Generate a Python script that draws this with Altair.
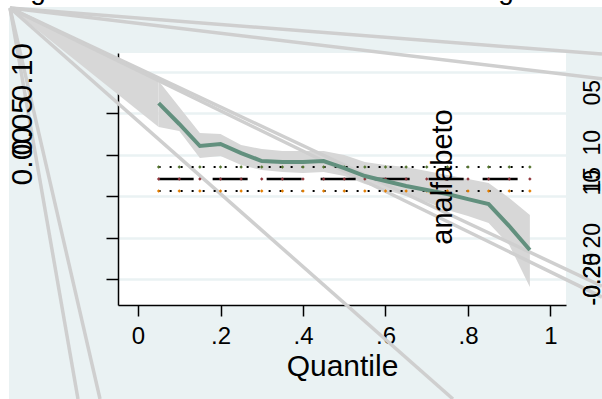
import altair as alt
import pandas as pd

# ---------------- data ----------------
quantiles = [0.05, 0.10, 0.15, 0.20, 0.25, 0.30, 0.35, 0.40, 0.45, 0.50,
             0.55, 0.60, 0.65, 0.70, 0.75, 0.80, 0.85, 0.90, 0.95]
coef = [0.0625, 0.0372, 0.0106, 0.0130, 0.0021, -0.0075, -0.0087, -0.0087, -0.0075, -0.0160,
        -0.0257, -0.0317, -0.0377, -0.0426, -0.0474, -0.0535, -0.0595, -0.0861, -0.1151]
ci_upper = [0.0891, 0.0577, 0.0263, 0.0251, 0.0118, 0.0070, 0.0045, 0.0045, 0.0045, -0.0003,
            -0.0087, -0.0124, -0.0148, -0.0196, -0.0245, -0.0293, -0.0341, -0.0522, -0.0728]
ci_lower = [0.0335, 0.0287, -0.0039, -0.0015, -0.0124, -0.0184, -0.0208, -0.0220, -0.0208, -0.0257,
            -0.0353, -0.0426, -0.0498, -0.0571, -0.0667, -0.0740, -0.0825, -0.1090, -0.1598]
ols_coef = -0.0293
ols_upper = -0.0148
ols_lower = -0.0438

x_ticks = [0, 0.2, 0.4, 0.6, 0.8, 1]
x_tick_labels = ["0", ".2", ".4", ".6", ".8", "1"]
y_ticks = [-0.15, -0.10, -0.05, 0.0, 0.05, 0.10]
left_labels = ["0.00", "0.05", "0.10"]
right_labels = ["05", "10", "15", "10", "20", "-0.20", "-0.25"]
var_label = "analfabeto"
x_title = "Quantile"
title_fragments = ["g", "g"]

# stray segments (drawn from a missing point that falls at the corner)
corner_x = -0.3103
corner_y = 0.1773
stray_end_x = [1.1248, 1.1248, 1.1248, 1.1248, 0.7636, -0.1455, -0.0921]
stray_end_y = [0.1217, 0.0920, -0.1586, -0.1719, -0.2951, -0.2951, -0.2951]

# ---------------- styles ----------------
FONT = "Liberation Sans"
BG = "#EAF2F3"
BAND = "#D7D7D7"
STRAY = "#CFCFCF"
LINE = "#62907E"
W, H = 448, 252
XDOM = [-0.0485, 1.0376]
YDOM = [-0.1815, 0.123]

xs = alt.Scale(domain=XDOM, nice=False, zero=False)
ys = alt.Scale(domain=YDOM, nice=False, zero=False)

label_expr = " : ".join(
    f"datum.value == {v} ? '{l}'" for v, l in zip(x_ticks, x_tick_labels)
) + " : ''"

x_axis = alt.Axis(values=x_ticks, labelExpr=label_expr, title=x_title, grid=False,
                  tickSize=11, tickWidth=1.5, tickColor="black", domainColor="black",
                  domainWidth=1.5, labelFontSize=24, labelFont=FONT, labelColor="black",
                  labelPadding=8, labelFlush=False, labelOverlap=False,
                  titleFont=FONT, titleFontSize=30,
                  titleFontWeight="normal", titleColor="black", titlePadding=3)
y_axis = alt.Axis(values=y_ticks, labels=False, title=None, grid=True, gridColor=BG,
                  gridWidth=2.5, tickSize=12, tickWidth=1.5, tickColor="black",
                  domainColor="black", domainWidth=1.5)


def X(f):
    return alt.X(f, type="quantitative", scale=xs, axis=x_axis)


def Y(f):
    return alt.Y(f, type="quantitative", scale=ys, axis=y_axis)


df = pd.DataFrame({"q": quantiles, "b": coef, "lo": ci_lower, "hi": ci_upper})
df["ols"] = ols_coef
df["ols_hi"] = ols_upper
df["ols_lo"] = ols_lower

one = pd.DataFrame({"a": [0]})
# white margins at top and left of the graph region
strip_top = alt.Chart(one).mark_rect(color="white", clip=False).encode(
    x=alt.value(-118), x2=alt.value(484), y=alt.value(-53), y2=alt.value(-46))
strip_left = alt.Chart(one).mark_rect(color="white", clip=False).encode(
    x=alt.value(-118), x2=alt.value(-109), y=alt.value(-53), y2=alt.value(346))

band = alt.Chart(df).mark_area(color=BAND, opacity=1).encode(
    x=X("q"), y=Y("hi"), y2="lo:Q")

# wedge from corner to the band start
wedge_df = pd.DataFrame({"q": [corner_x, quantiles[0]],
                         "hi": [corner_y, ci_upper[0]],
                         "lo": [corner_y, ci_lower[0]]})
wedge = alt.Chart(wedge_df).mark_area(color=BAND, clip=False, opacity=1).encode(
    x=X("q"), y=Y("hi"), y2="lo:Q")

stray_rows = []
for i, (ex, ey) in enumerate(zip(stray_end_x, stray_end_y)):
    stray_rows.append({"id": i, "o": 0, "q": corner_x, "v": corner_y})
    stray_rows.append({"id": i, "o": 1, "q": ex, "v": ey})
stray = alt.Chart(pd.DataFrame(stray_rows)).mark_line(
    color=STRAY, strokeWidth=3.5, clip=False).encode(
    x=X("q"), y=Y("v"), detail="id:N", order="o:Q")

ols_line = alt.Chart(df).mark_line(color="black", strokeWidth=2.5, strokeDash=[35, 19]).encode(
    x=X("q"), y=Y("ols"))
ols_hi_line = alt.Chart(df).mark_line(color="black", strokeWidth=2, strokeDash=[2, 9]).encode(
    x=X("q"), y=Y("ols_hi"))
ols_lo_line = alt.Chart(df).mark_line(color="black", strokeWidth=2, strokeDash=[2, 9]).encode(
    x=X("q"), y=Y("ols_lo"))
pts_mid = alt.Chart(df).mark_point(shape="diamond", filled=True, size=12, color="#90353B",
                                   opacity=1).encode(x=X("q"), y=Y("ols"))
pts_hi = alt.Chart(df).mark_point(shape="diamond", filled=True, size=12, color="#55752F",
                                  opacity=1).encode(x=X("q"), y=Y("ols_hi"))
pts_lo = alt.Chart(df).mark_point(shape="diamond", filled=True, size=12, color="#E37E00",
                                  opacity=1).encode(x=X("q"), y=Y("ols_lo"))

coef_line = alt.Chart(df).mark_line(color=LINE, strokeWidth=4).encode(x=X("q"), y=Y("b"))


def txt(s, x, y, size, angle=0, align="center", baseline="alphabetic"):
    return alt.Chart(pd.DataFrame({"t": [s]})).mark_text(
        font=FONT, fontSize=size, angle=angle, align=align, baseline=baseline,
        color="black", clip=False).encode(text="t:N", x=alt.value(x), y=alt.value(y))


texts = []
# left (misplaced) y labels, text end positions
for s, yend in zip(left_labels, [74, 44, -10]):
    texts.append(txt(s, -86, yend, 30, angle=270, align="right"))
# right (misplaced) labels
for s, yend in zip(right_labels, [27, 77, 114, 117, 170, 200, 200]):
    texts.append(txt(s, 482, yend, 23, angle=270, align="right"))
texts.append(txt(var_label, 334, 124, 29, angle=270))
texts.append(txt(title_fragments[0], -80, -54, 28))
texts.append(txt(title_fragments[1], 388, -54, 28))

chart = alt.layer(
    strip_top, strip_left, band, wedge, stray, ols_hi_line, ols_lo_line, ols_line,
    pts_hi, pts_lo, pts_mid, coef_line, *texts
).properties(
    width=W, height=H,
    padding={"left": 118, "top": 53, "right": 36, "bottom": 94},
    autosize=alt.AutoSizeParams(type="none"),
    background=BG,
).configure_view(fill="white", stroke=None)

chart.save("out.html", embed_options={"renderer": "svg", "actions": False})
